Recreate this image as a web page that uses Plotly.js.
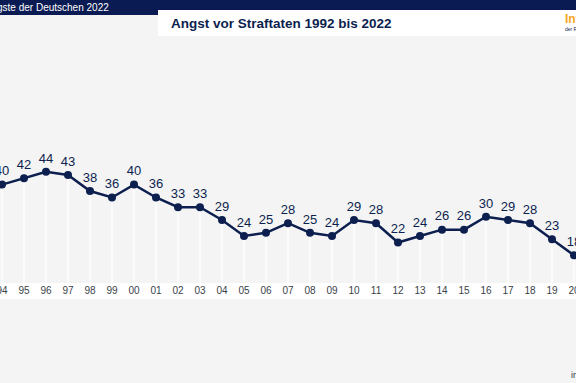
<!DOCTYPE html>
<html>
<head>
<meta charset="utf-8">
<script src="https://cdn.plot.ly/plotly-3.0.1.min.js"></script>
<style>
html,body{margin:0;padding:0;background:#f4f4f4;overflow:hidden;}
#chart{width:576px;height:383px;}
</style>
</head>
<body>
<div id="chart"></div>
<script>
// Visible part of the series (1994–2020)
const years = [1994,1995,1996,1997,1998,1999,2000,2001,2002,2003,2004,2005,2006,2007,2008,2009,2010,2011,2012,2013,2014,2015,2016,2017,2018,2019,2020];
const values = [40,42,44,43,38,36,40,36,33,33,29,24,25,28,25,24,29,28,22,24,26,26,30,29,28,23,18];
const tickLabels = ["94","95","96","97","98","99","00","01","02","03","04","05","06","07","08","09","10","11","12","13","14","15","16","17","18","19","20"];

const navy = "#0c1f4f";
const font = "Liberation Sans, Arial, Helvetica, sans-serif";
const yMin = 9.4, yMax = 84.05;

const dropLines = {
  type: "bar",
  x: years,
  y: values.map(v => v - yMin),
  base: yMin,
  width: 0.09,
  marker: {color: "#fbfbfb", line: {width: 0}},
  hoverinfo: "skip",
  showlegend: false
};

const line = {
  type: "scatter",
  mode: "lines+markers+text",
  x: years,
  y: values,
  text: values.map(String),
  textposition: "top center",
  textfont: {family: font, size: 13, color: navy},
  line: {color: navy, width: 2.5},
  marker: {color: navy, size: 8},
  cliponaxis: false,
  showlegend: false
};

const layout = {
  width: 576,
  height: 383,
  margin: {l: 0, r: 0, t: 43, b: 100, pad: 0},
  paper_bgcolor: "#f4f4f4",
  plot_bgcolor: "#f4f4f4",
  showlegend: false,
  xaxis: {
    range: [1994 - 2/22, 2020 + 2/22],
    tickvals: years,
    ticktext: tickLabels,
    tickfont: {family: font, size: 10, color: "#3a3f4a"},
    showgrid: false,
    zeroline: false,
    showline: false,
    ticks: "",
    ticklabeloverflow: "allow",
    automargin: false
  },
  yaxis: {
    range: [yMin, yMax],
    visible: false,
    showgrid: false,
    zeroline: false,
    automargin: false
  },
  shapes: [
    // label band
    {type: "rect", xref: "paper", yref: "paper", x0: 0, x1: 1, y0: 0, y1: -16/240, fillcolor: "#ffffff", line: {width: 0}, layer: "below"},
    // header navy bars
    {type: "rect", xref: "paper", yref: "paper", x0: 0, x1: 1, y0: 283/240, y1: 273/240, fillcolor: "#0a1a52", line: {width: 0}},
    {type: "rect", xref: "paper", yref: "paper", x0: 0, x1: 158/576, y0: 283/240, y1: 268/240, fillcolor: "#0a1a52", line: {width: 0}},
    // title box
    {type: "rect", xref: "paper", yref: "paper", x0: 158/576, x1: 1, y0: 273/240, y1: 247/240, fillcolor: "#ffffff", line: {width: 0}}
  ],
  annotations: [
    {xref: "paper", yref: "paper", x: 111/576, y: (283-7)/240, xanchor: "right", yanchor: "middle", showarrow: false,
     text: "Die Ängste der Deutschen 2022", font: {family: font, size: 10, color: "#ffffff"}},
    {xref: "paper", yref: "paper", x: 169/576, y: (283-23)/240, xanchor: "left", yanchor: "middle", showarrow: false,
     text: "<b>Angst vor Straftaten 1992 bis 2022</b>", font: {family: font, size: 13.5, color: navy}},
    {xref: "paper", yref: "paper", x: 563/576, y: (283-19)/240, xanchor: "left", yanchor: "middle", showarrow: false,
     text: "<b>Infocenter</b>", font: {family: font, size: 12, color: "#f5a623"}},
    {xref: "paper", yref: "paper", x: 563/576, y: (283-29)/240, xanchor: "left", yanchor: "middle", showarrow: false,
     text: "der R+V Versicherung", font: {family: font, size: 5, color: navy}},
    {xref: "paper", yref: "paper", x: 569/576, y: (283-375)/240, xanchor: "left", yanchor: "middle", showarrow: false,
     text: "infocenter", font: {family: font, size: 9, color: "#3a3f4a"}}
  ]
};

Plotly.newPlot("chart", [dropLines, line], layout, {displayModeBar: false, staticPlot: true});
</script>
</body>
</html>
